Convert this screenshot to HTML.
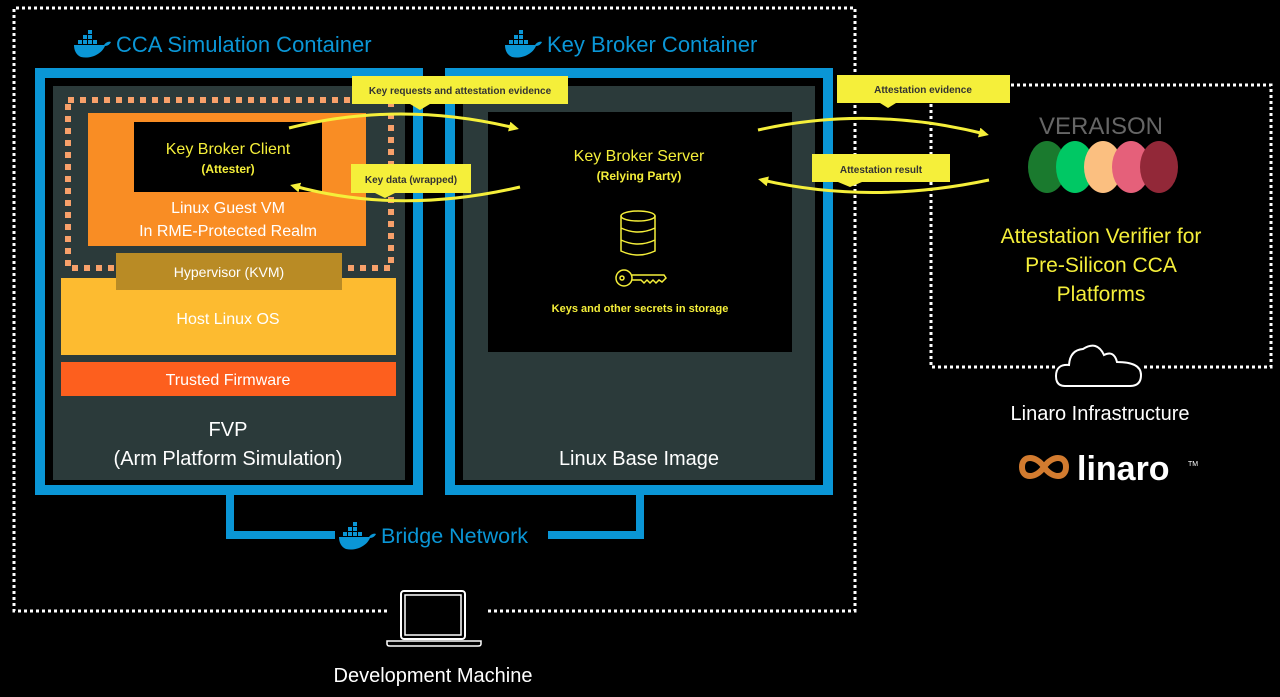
<!DOCTYPE html>
<html><head><meta charset="utf-8"><style>
body{margin:0;background:#000;width:1280px;height:697px;overflow:hidden}
svg{display:block}
text{font-family:"Liberation Sans",sans-serif}
</style></head><body>
<svg width="1280" height="697" viewBox="0 0 1280 697">
<defs>
<g id="dock">
<path d="M0 14 H30 C32 11 35 10 37 11 C36 13 34 15 31 15 C27 24 16 28 7 26 C2 24 0 19 0 14Z" fill="#0a96d6"/>
<rect x="4" y="9" width="4" height="4" fill="#0a96d6"/><rect x="9" y="9" width="4" height="4" fill="#0a96d6"/><rect x="14" y="9" width="4" height="4" fill="#0a96d6"/><rect x="19" y="9" width="4" height="4" fill="#0a96d6"/>
<rect x="9" y="4" width="4" height="4" fill="#0a96d6"/><rect x="14" y="4" width="4" height="4" fill="#0a96d6"/><rect x="14" y="-1" width="4" height="4" fill="#0a96d6"/>
</g>
<marker id="ah" markerWidth="10" markerHeight="10" refX="6" refY="5" orient="auto" markerUnits="userSpaceOnUse"><path d="M0 0 L10 5 L0 10 Z" fill="#f5ef3a"/></marker>
</defs>
<path d="M387 611 H14 V8 H855 V611 H488" fill="none" stroke="#fff" stroke-width="3" stroke-dasharray="3 3"/>
<path d="M1055 367 H931 V85 H1271 V367 H1143" fill="none" stroke="#fff" stroke-width="3" stroke-dasharray="3 3"/>
<use href="#dock" x="74" y="31"/>
<text x="116" y="52" font-size="22" fill="#0a96d6">CCA Simulation Container</text>
<use href="#dock" x="505" y="31"/>
<text x="547" y="52" font-size="22" fill="#0a96d6">Key Broker Container</text>
<path d="M230 495 V535 H335 M640 495 V535 H548" fill="none" stroke="#0a96d6" stroke-width="8"/>
<use href="#dock" x="339" y="523"/>
<text x="381" y="543" font-size="21.5" fill="#0a96d6">Bridge Network</text>
<rect x="40" y="73" width="378" height="417" fill="#000" stroke="#0a96d6" stroke-width="10"/>
<rect x="53" y="86" width="352" height="394" fill="#2b3a3a"/>
<rect x="450" y="73" width="378" height="417" fill="#000" stroke="#0a96d6" stroke-width="10"/>
<rect x="463" y="86" width="352" height="394" fill="#2b3a3a"/>
<rect x="488" y="112" width="304" height="240" fill="#000"/>
<rect x="68" y="100" width="323" height="168" fill="none" stroke="#f7a06a" stroke-width="6" stroke-dasharray="6 6"/>
<rect x="88" y="113" width="278" height="133" fill="#f98d24"/>
<rect x="134" y="122" width="188" height="70" fill="#000"/>
<text x="228" y="154" font-size="16" fill="#f5ef3a" text-anchor="middle">Key Broker Client</text>
<text x="228" y="173" font-size="12" font-weight="bold" fill="#f5ef3a" text-anchor="middle">(Attester)</text>
<text x="228" y="213" font-size="16" fill="#fff" text-anchor="middle">Linux Guest VM</text>
<text x="228" y="236" font-size="16" fill="#fff" text-anchor="middle">In RME-Protected Realm</text>
<rect x="61" y="278" width="335" height="77" fill="#fdbb30"/>
<rect x="116" y="253" width="226" height="37" fill="#b98b25"/>
<text x="229" y="277" font-size="14" fill="#fff" text-anchor="middle">Hypervisor (KVM)</text>
<text x="228" y="324" font-size="16" fill="#fff" text-anchor="middle">Host Linux OS</text>
<rect x="61" y="362" width="335" height="34" fill="#fd5f1e"/>
<text x="228" y="385" font-size="16" fill="#fff" text-anchor="middle">Trusted Firmware</text>
<text x="228" y="436" font-size="20" fill="#fff" text-anchor="middle">FVP</text>
<text x="228" y="465" font-size="20" fill="#fff" text-anchor="middle">(Arm Platform Simulation)</text>
<text x="639" y="161" font-size="16" fill="#f5ef3a" text-anchor="middle">Key Broker Server</text>
<text x="639" y="180" font-size="12" font-weight="bold" fill="#f5ef3a" text-anchor="middle">(Relying Party)</text>
<g fill="none" stroke="#f5ef3a" stroke-width="1.5">
<ellipse cx="638" cy="216" rx="17" ry="5"/>
<path d="M621 216 V251 Q638 259 655 251 V216 M621 228 Q638 236 655 228 M621 240 Q638 248 655 240"/>
<circle cx="624" cy="278" r="8"/><circle cx="622" cy="278" r="2"/>
<path d="M632 275 H664 L666 278 L662 282 L659 280 L656 283 L653 280 L650 283 L647 280 L644 283 L641 280 H632"/>
</g>
<text x="640" y="312" font-size="11" font-weight="bold" fill="#f5ef3a" text-anchor="middle">Keys and other secrets in storage</text>
<text x="639" y="465" font-size="20" fill="#fff" text-anchor="middle">Linux Base Image</text>
<g fill="none" stroke="#f5ef3a" stroke-width="3">
<path d="M289 128 Q400 100 515 128" marker-end="url(#ah)"/>
<path d="M520 187 Q400 215 294 186" marker-end="url(#ah)"/>
<path d="M758 130 Q870 105 985 134" marker-end="url(#ah)"/>
<path d="M989 180 Q870 205 762 180" marker-end="url(#ah)"/>
</g>
<rect x="352" y="76" width="216" height="28" fill="#f5ef3a"/>
<path d="M410 104 L420 110 L430 104Z" fill="#f5ef3a"/>
<text x="460" y="94" font-size="10" font-weight="bold" fill="#333" text-anchor="middle">Key requests and attestation evidence</text>
<rect x="351" y="164" width="120" height="29" fill="#f5ef3a"/>
<path d="M375 193 L385 198 L395 193Z" fill="#f5ef3a"/>
<text x="411" y="183" font-size="10" font-weight="bold" fill="#333" text-anchor="middle">Key data (wrapped)</text>
<rect x="837" y="75" width="173" height="28" fill="#f5ef3a"/>
<path d="M880 103 L888 108 L896 103Z" fill="#f5ef3a"/>
<text x="923" y="93" font-size="10" font-weight="bold" fill="#333" text-anchor="middle">Attestation evidence</text>
<rect x="812" y="154" width="138" height="28" fill="#f5ef3a"/>
<path d="M838 182 L850 187 L862 182Z" fill="#f5ef3a"/>
<text x="881" y="173" font-size="10" font-weight="bold" fill="#333" text-anchor="middle">Attestation result</text>
<text x="1101" y="134" font-size="24" fill="#666" text-anchor="middle">VERAISON</text>
<ellipse cx="1047" cy="167" rx="19" ry="26" fill="#1a7a2e"/>
<ellipse cx="1075" cy="167" rx="19" ry="26" fill="#00c864"/>
<ellipse cx="1103" cy="167" rx="19" ry="26" fill="#fbbf80"/>
<ellipse cx="1131" cy="167" rx="19" ry="26" fill="#e5607a"/>
<ellipse cx="1159" cy="167" rx="19" ry="26" fill="#922838"/>
<text x="1101" y="243" font-size="21" fill="#f5ef3a" text-anchor="middle">Attestation Verifier for</text>
<text x="1101" y="272" font-size="21" fill="#f5ef3a" text-anchor="middle">Pre-Silicon CCA</text>
<text x="1101" y="301" font-size="21" fill="#f5ef3a" text-anchor="middle">Platforms</text>
<path d="M1065 386 Q1056 386 1056 376 Q1056 364 1069 365 Q1070 350 1083 349 Q1097 340 1104 355 Q1114 350 1117 362 Q1141 362 1141 375 Q1141 386 1130 386 Z" fill="none" stroke="#fff" stroke-width="2"/>
<text x="1100" y="420" font-size="20" fill="#fff" text-anchor="middle">Linaro Infrastructure</text>
<path d="M1044 467 C1036 455 1022 455 1022 467 C1022 479 1036 479 1044 467 C1052 455 1066 455 1066 467 C1066 479 1052 479 1044 467Z" fill="none" stroke="#d27b2f" stroke-width="6"/>
<text x="1077" y="480" font-size="34" font-weight="bold" fill="#fff">linaro</text>
<text x="1188" y="466" font-size="7" fill="#fff">TM</text>
<rect x="401" y="591" width="64" height="48" rx="3" fill="none" stroke="#fff" stroke-width="2"/>
<rect x="405" y="595" width="56" height="40" fill="none" stroke="#fff" stroke-width="1.5"/>
<path d="M387 641 H481 V644 Q481 646 478 646 H390 Q387 646 387 644Z" fill="none" stroke="#fff" stroke-width="1.5"/>
<text x="433" y="682" font-size="20" fill="#fff" text-anchor="middle">Development Machine</text>
</svg>
</body></html>
